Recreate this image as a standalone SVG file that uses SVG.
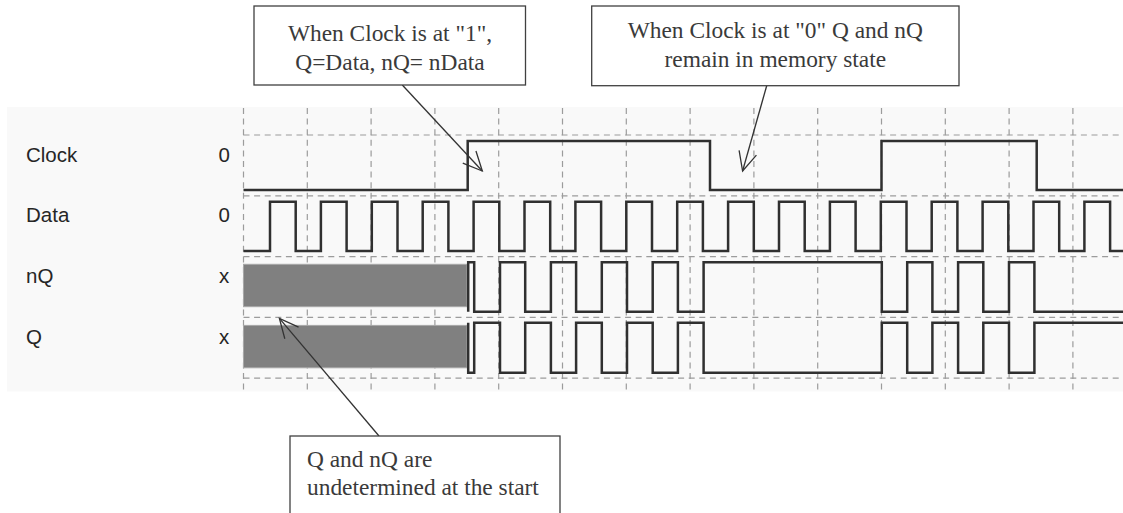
<svg xmlns="http://www.w3.org/2000/svg" width="1123" height="513" viewBox="0 0 1123 513">
<defs>
<style>
.grid{stroke:#9c9c9c;stroke-width:1.2;stroke-dasharray:6 4.6;fill:none}
.wave{stroke:#303030;stroke-width:2.5;fill:none;stroke-linejoin:miter}
.und{fill:#808080;stroke:#a8a8a8;stroke-width:1}
.lbl{font-family:"Liberation Sans",Arial,sans-serif;font-size:20.5px;fill:#262626}
.box{fill:#ffffff;stroke:#404040;stroke-width:1.3}
.note{font-family:"Liberation Serif","Times New Roman",serif;font-size:23.4px;fill:#3a3a3a}
.conn{stroke:#333333;stroke-width:1.3;fill:none}
</style>
<marker id="open" viewBox="-22 -11 24 22" markerWidth="24" markerHeight="22" refX="0" refY="0" orient="auto" markerUnits="userSpaceOnUse">
<path d="M-19,-9 L0,0 L-19,9" fill="none" stroke="#333333" stroke-width="1.3"/>
</marker>
</defs>
<rect x="0" y="0" width="1123" height="513" fill="#ffffff"/>
<g id="panel">
<rect x="7" y="107" width="1116" height="284.5" fill="#f9f9f9"/>
</g>
<g id="grid">
<path class="grid" d="M243.5,108 V391 M307.3,108 V391 M371.1,108 V391 M434.9,108 V391 M498.7,108 V391 M562.5,108 V391 M626.3,108 V391 M690.1,108 V391 M753.9,108 V391 M817.7,108 V391 M881.5,108 V391 M945.3,108 V391 M1009.1,108 V391 M1072.9,108 V391"/>
<path class="grid" d="M243.5,135 H1123 M243.5,195.8 H1123 M243.5,256.6 H1123 M243.5,317.4 H1123 M243.5,378.2 H1123"/>
</g>
<g id="labels">
<text class="lbl" x="26" y="161.5">Clock</text>
<text class="lbl" x="26" y="222.3">Data</text>
<text class="lbl" x="26" y="283.2">nQ</text>
<text class="lbl" x="26" y="344">Q</text>
<text class="lbl" x="218.5" y="161.5">0</text>
<text class="lbl" x="218.5" y="222.3">0</text>
<text class="lbl" x="219" y="283.2">x</text>
<text class="lbl" x="219" y="344">x</text>
</g>
<g id="clock">
<path class="wave" d="M243.5,190 H467.7 V141 H710 V190 H881.5 V141 H1036.7 V190 H1123"/>
</g>
<g id="data">
<path class="wave" d="M243.5,251 H270 V201.7 H295.7 V251 H320.9 V201.7 H346.6 V251 H371.8 V201.7 H397.5 V251 H422.7 V201.7 H448.4 V251 H473.6 V201.7 H499.3 V251 H524.5 V201.7 H550.2 V251 H575.4 V201.7 H601.1 V251 H626.3 V201.7 H652 V251 H677.2 V201.7 H702.9 V251 H728.1 V201.7 H753.8 V251 H779 V201.7 H804.7 V251 H829.9 V201.7 H855.6 V251 H880.8 V201.7 H906.5 V251 H931.7 V201.7 H957.4 V251 H982.6 V201.7 H1008.3 V251 H1033.5 V201.7 H1059.2 V251 H1084.4 V201.7 H1110.1 V251 H1123"/>
</g>
<g id="nQ">
<rect class="und" x="243.5" y="264.3" width="223.5" height="42.4"/>
<path class="wave" d="M468.2,311.7 V262.3 H474.2 V311.7 H500 V262.3 H525.2 V311.7 H550.9 V262.3 H576.1 V311.7 H601.8 V262.3 H627 V311.7 H652.7 V262.3 H677.9 V311.7 H703.6 V262.3 H881.8 V311.7 H907.2 V262.3 H932.4 V311.7 H958.1 V262.3 H983.3 V311.7 H1009 V262.3 H1034.4 V311.7 H1123"/>
</g>
<g id="Q">
<rect class="und" x="243.5" y="325.4" width="223.5" height="42.4"/>
<path class="wave" d="M468.2,322.7 V372.7 H474.2 V322.7 H500 V372.7 H525.2 V322.7 H550.9 V372.7 H576.1 V322.7 H601.8 V372.7 H627 V322.7 H652.7 V372.7 H677.9 V322.7 H703.6 V372.7 H881.8 V322.7 H907.2 V372.7 H932.4 V322.7 H958.1 V372.7 H983.3 V322.7 H1009 V372.7 H1034.4 V322.7 H1123"/>
</g>
<g id="connectors">
<line class="conn" x1="402.3" y1="85" x2="482.3" y2="171" marker-end="url(#open)"/>
<line class="conn" x1="766.7" y1="85.7" x2="742.6" y2="171" marker-end="url(#open)"/>
<line class="conn" x1="379" y1="436" x2="279.4" y2="318.4" marker-end="url(#open)"/>
</g>
<g id="note1">
<rect class="box" x="254" y="6" width="271.5" height="79"/>
<text class="note" x="390" y="41" text-anchor="middle">When Clock is at "1",</text>
<text class="note" x="390" y="69.5" text-anchor="middle">Q=Data, nQ= nData</text>
</g>
<g id="note2">
<rect class="box" x="591.7" y="6" width="367.3" height="79.7"/>
<text class="note" x="775.3" y="38" text-anchor="middle">When Clock is at "0" Q and nQ</text>
<text class="note" x="775.3" y="66.5" text-anchor="middle">remain in memory state</text>
</g>
<g id="note3">
<rect class="box" x="290" y="436" width="270" height="90"/>
<text class="note" x="307" y="467">Q and nQ are</text>
<text class="note" x="307" y="495">undetermined at the start</text>
</g>
</svg>
